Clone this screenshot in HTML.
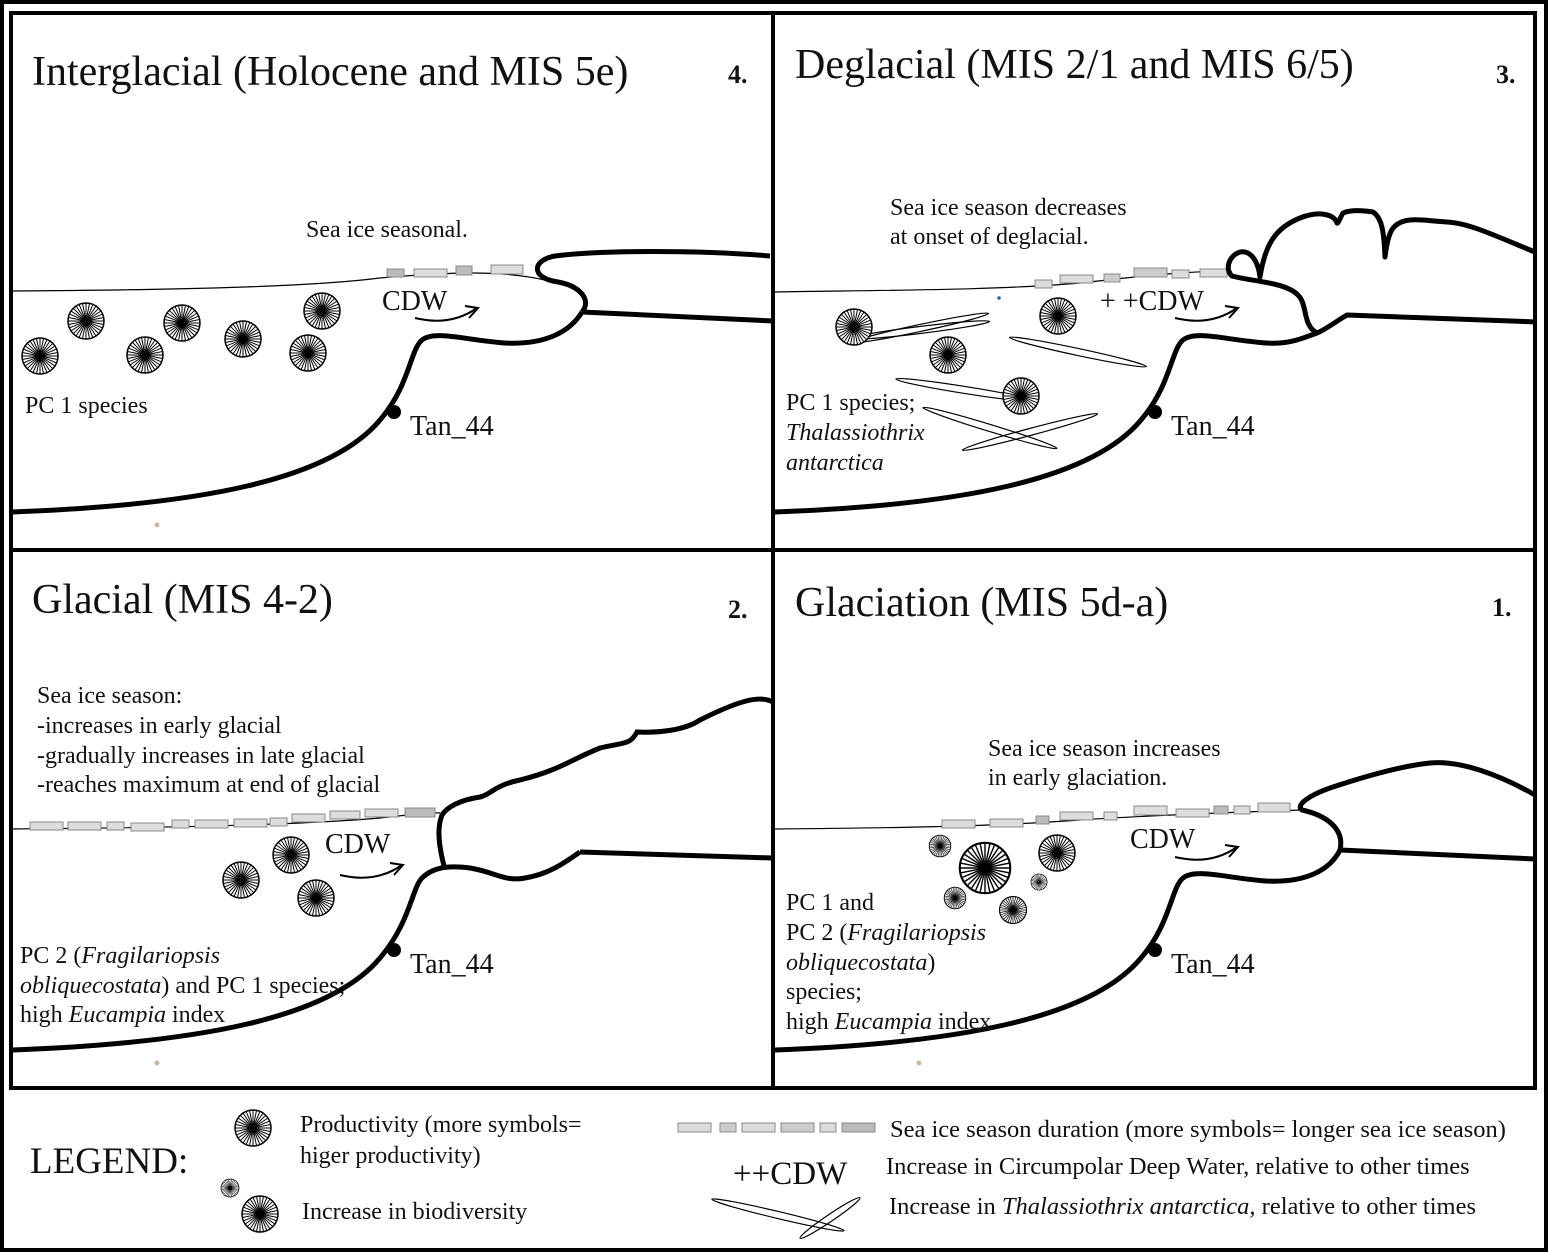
<!DOCTYPE html>
<html><head><meta charset="utf-8"><style>
html,body{margin:0;padding:0;background:#fff}
svg{display:block}
text{font-family:"Liberation Serif",serif;fill:#111}
</style></head><body>
<svg width="1548" height="1252" viewBox="0 0 1548 1252" xmlns="http://www.w3.org/2000/svg">
<defs>
<g id="d">
<circle r="18" fill="#fff" stroke="#000" stroke-width="1.5"/>
<g stroke="#000" stroke-width="1">
<line x1="-18" y1="0" x2="18" y2="0"/><line x1="-16.6" y1="-6.9" x2="16.6" y2="6.9"/>
<line x1="-12.7" y1="-12.7" x2="12.7" y2="12.7"/><line x1="-6.9" y1="-16.6" x2="6.9" y2="16.6"/>
<line x1="0" y1="-18" x2="0" y2="18"/><line x1="6.9" y1="-16.6" x2="-6.9" y2="16.6"/>
<line x1="12.7" y1="-12.7" x2="-12.7" y2="12.7"/><line x1="16.6" y1="-6.9" x2="-16.6" y2="6.9"/>
<line x1="-17.6" y1="-3.5" x2="17.6" y2="3.5"/><line x1="-15" y1="-10" x2="15" y2="10"/>
<line x1="-10" y1="-15" x2="10" y2="15"/><line x1="-3.5" y1="-17.6" x2="3.5" y2="17.6"/>
<line x1="3.5" y1="-17.6" x2="-3.5" y2="17.6"/><line x1="10" y1="-15" x2="-10" y2="15"/>
<line x1="15" y1="-10" x2="-15" y2="10"/><line x1="17.6" y1="-3.5" x2="-17.6" y2="3.5"/>
</g>
<circle r="3" fill="#000"/>
</g>
<g id="a"><path d="M0,0 C25,6 45,2 62,-10" fill="none" stroke="#000" stroke-width="2"/><path d="M50,-12 L63,-10 L54,0" fill="none" stroke="#000" stroke-width="2"/></g>
<g id="t"><ellipse rx="70" ry="3.5" fill="none" stroke="#000" stroke-width="1.2"/></g>
</defs>
<rect x="2" y="2" width="1544" height="1248" fill="none" stroke="#000" stroke-width="4"/>
<rect x="11" y="13" width="1524" height="1075" fill="none" stroke="#000" stroke-width="4"/>
<line x1="773" y1="13" x2="773" y2="1088" stroke="#000" stroke-width="4"/>
<line x1="11" y1="550" x2="1535" y2="550" stroke="#000" stroke-width="4"/>

<!-- Panel 4 -->
<text x="32" y="85" font-size="42">Interglacial (Holocene and MIS 5e)</text>
<text x="728" y="83" font-size="26" font-weight="bold">4.</text>
<text x="306" y="237" font-size="24">Sea ice seasonal.</text>
<path d="M12,291 C150,290 300,288 380,278 C450,272 500,270 545,280" fill="none" stroke="#000" stroke-width="1.2"/>
<g fill="#ccc" stroke="#888"><rect x="387" y="269" width="17" height="8" fill="#bbb"/><rect x="414" y="269" width="33" height="8" fill="#ddd"/><rect x="456" y="266" width="16" height="9" fill="#bbb"/><rect x="491" y="265" width="32" height="9" fill="#ddd"/></g>
<path d="M770,256 C700,250 600,250 555,256 C532,260 530,278 558,282 C580,286 592,300 582,312" fill="none" stroke="#000" stroke-width="5"/>
<path d="M582,312 L773,321" stroke="#000" stroke-width="5"/>
<path d="M12,512 C200,505 330,480 380,420 C410,385 410,350 422,340 C435,330 465,340 505,343 C545,345 570,332 582,312" fill="none" stroke="#000" stroke-width="5"/>
<circle cx="394" cy="412" r="7"/>
<text x="382" y="310" font-size="28">CDW</text>
<use href="#a" x="415" y="318"/>
<text x="410" y="435" font-size="28">Tan_44</text>
<text x="25" y="413" font-size="24">PC 1 species</text>
<use href="#d" x="40" y="356"/><use href="#d" x="86" y="321"/><use href="#d" x="145" y="355"/><use href="#d" x="182" y="323"/><use href="#d" x="243" y="339"/><use href="#d" x="322" y="311"/><use href="#d" x="308" y="353"/>
<circle cx="157" cy="525" r="2.5" fill="#c9b7a6"/>

<!-- Panel 3 -->
<text x="795" y="78" font-size="42">Deglacial (MIS 2/1 and MIS 6/5)</text>
<text x="1496" y="83" font-size="26" font-weight="bold">3.</text>
<text x="890" y="215" font-size="24">Sea ice season decreases</text>
<text x="890" y="244" font-size="24">at onset of deglacial.</text>
<path d="M775,292 C900,290 1000,290 1080,283 C1150,275 1200,270 1232,272" fill="none" stroke="#000" stroke-width="1.2"/>
<g stroke="#888"><rect x="1035" y="280" width="17" height="8" fill="#ddd"/><rect x="1060" y="275" width="33" height="8" fill="#ddd"/><rect x="1104" y="274" width="16" height="8" fill="#ccc"/><rect x="1134" y="268" width="33" height="9" fill="#ccc"/><rect x="1172" y="270" width="17" height="8" fill="#ddd"/><rect x="1200" y="269" width="27" height="8" fill="#ddd"/></g>
<path d="M1535,252 C1500,238 1470,223 1447,222 C1430,221 1420,219 1410,220 C1392,222 1388,232 1385,257 C1384,232 1382,218 1373,212 C1360,210 1350,210 1343,213 C1340,218 1338,224 1337,223 C1335,215 1320,210 1300,218 C1275,228 1265,245 1260,277 C1258,260 1250,250 1240,252 C1228,256 1225,270 1232,276 C1255,282 1285,282 1298,295 C1308,305 1302,325 1317,333 C1325,330 1335,322 1347,315 L1537,322" fill="none" stroke="#000" stroke-width="5" stroke-linejoin="round"/>
<path d="M775,512 C961,505 1091,480 1141,420 C1171,385 1171,350 1183,340 C1196,330 1226,340 1266,343 C1290,345 1305,337 1317,333" fill="none" stroke="#000" stroke-width="5"/>
<circle cx="1155" cy="412" r="7"/>
<text x="1100" y="310" font-size="28">+ +CDW</text>
<use href="#a" x="1175" y="318"/>
<text x="1171" y="435" font-size="28">Tan_44</text>
<text x="786" y="410" font-size="24">PC 1 species;</text>
<text x="786" y="440" font-size="24" font-style="italic">Thalassiothrix</text>
<text x="786" y="470" font-size="24" font-style="italic">antarctica</text>
<circle cx="999" cy="298" r="1.8" fill="#1a6fa8"/>
<use href="#t" transform="translate(920,328) rotate(-12)"/><use href="#t" transform="translate(920,330) rotate(-7)"/>
<use href="#t" transform="translate(1078,352) rotate(12)"/>
<use href="#t" transform="translate(965,390) rotate(9)"/>
<use href="#t" transform="translate(990,428) rotate(17)"/><use href="#t" transform="translate(1030,432) rotate(-15)"/>
<use href="#d" x="854" y="327"/><use href="#d" x="1058" y="316"/><use href="#d" x="948" y="355"/><use href="#d" x="1021" y="396"/>

<!-- Panel 2 -->
<text x="32" y="613" font-size="42">Glacial (MIS 4-2)</text>
<text x="728" y="618" font-size="26" font-weight="bold">2.</text>
<text x="37" y="703" font-size="24">Sea ice season:</text>
<text x="37" y="733" font-size="24">-increases in early glacial</text>
<text x="37" y="763" font-size="24">-gradually increases in late glacial</text>
<text x="37" y="792" font-size="24">-reaches maximum at end of glacial</text>
<path d="M12,829 C150,828 300,825 380,818 C410,815 425,812 440,813" fill="none" stroke="#000" stroke-width="1.2"/>
<g stroke="#888" fill="#ddd"><rect x="30" y="822" width="33" height="8"/><rect x="68" y="822" width="33" height="8"/><rect x="107" y="822" width="17" height="8"/><rect x="131" y="823" width="33" height="8"/><rect x="172" y="820" width="17" height="8"/><rect x="195" y="820" width="33" height="8"/><rect x="234" y="819" width="33" height="8"/><rect x="270" y="818" width="17" height="8"/><rect x="292" y="814" width="33" height="8"/><rect x="330" y="811" width="30" height="8"/><rect x="365" y="809" width="33" height="8"/><rect x="405" y="808" width="30" height="9" fill="#bbb"/></g>
<path d="M773,702 C760,695 740,700 700,720 C685,730 660,733 637,732 C630,745 625,742 600,748 C570,760 560,770 520,780 C495,785 490,795 480,797 C460,800 447,807 442,815 C436,830 440,850 444,866" fill="none" stroke="#000" stroke-width="5"/>
<path d="M580,852 L773,858" fill="none" stroke="#000" stroke-width="5"/>
<path d="M12,1050 C200,1043 330,1018 380,958 C410,923 412,888 422,878 C435,865 455,866 470,868 C495,872 505,882 525,878 C550,874 565,862 580,852" fill="none" stroke="#000" stroke-width="5"/>
<circle cx="394" cy="950" r="7"/>
<text x="325" y="853" font-size="28">CDW</text>
<use href="#a" x="340" y="875"/>
<text x="410" y="973" font-size="28">Tan_44</text>
<text x="20" y="963" font-size="24">PC 2 (<tspan font-style="italic">Fragilariopsis</tspan></text>
<text x="20" y="993" font-size="24"><tspan font-style="italic">obliquecostata</tspan>) and PC 1 species;</text>
<text x="20" y="1022" font-size="24">high <tspan font-style="italic">Eucampia</tspan> index</text>
<use href="#d" x="291" y="855"/><use href="#d" x="241" y="880"/><use href="#d" x="316" y="898"/>
<circle cx="157" cy="1063" r="2.5" fill="#c9b7a6"/>

<!-- Panel 1 -->
<text x="795" y="616" font-size="42">Glaciation (MIS 5d-a)</text>
<text x="1492" y="616" font-size="26" font-weight="bold">1.</text>
<text x="988" y="756" font-size="24">Sea ice season increases</text>
<text x="988" y="785" font-size="24">in early glaciation.</text>
<path d="M775,829 C900,828 1000,826 1080,820 C1150,815 1250,812 1300,810" fill="none" stroke="#000" stroke-width="1.2"/>
<g stroke="#888" fill="#ddd"><rect x="942" y="820" width="33" height="8"/><rect x="990" y="819" width="33" height="8"/><rect x="1036" y="816" width="13" height="8" fill="#bbb"/><rect x="1060" y="812" width="33" height="8"/><rect x="1104" y="812" width="13" height="8"/><rect x="1134" y="806" width="33" height="9"/><rect x="1176" y="809" width="33" height="8"/><rect x="1214" y="806" width="14" height="8" fill="#bbb"/><rect x="1234" y="806" width="16" height="8"/><rect x="1258" y="803" width="32" height="9"/></g>
<path d="M1535,795 C1500,775 1460,760 1430,763 C1400,766 1360,778 1330,788 C1310,795 1295,805 1302,810 C1325,815 1345,828 1340,850" fill="none" stroke="#000" stroke-width="5"/>
<path d="M1340,850 L1535,859" stroke="#000" stroke-width="5"/>
<path d="M775,1050 C961,1043 1091,1018 1141,958 C1171,923 1171,888 1183,878 C1196,868 1226,878 1266,881 C1306,883 1330,870 1340,850" fill="none" stroke="#000" stroke-width="5"/>
<circle cx="1155" cy="950" r="7"/>
<text x="1130" y="848" font-size="28">CDW</text>
<use href="#a" x="1175" y="857"/>
<text x="1171" y="973" font-size="28">Tan_44</text>
<text x="786" y="910" font-size="24">PC 1 and</text>
<text x="786" y="940" font-size="24">PC 2 (<tspan font-style="italic">Fragilariopsis</tspan></text>
<text x="786" y="970" font-size="24" font-style="italic">obliquecostata<tspan font-style="normal">)</tspan></text>
<text x="786" y="999" font-size="24">species;</text>
<text x="786" y="1029" font-size="24">high <tspan font-style="italic">Eucampia</tspan> index</text>
<use href="#d" transform="translate(940,846) scale(0.6)"/><use href="#d" transform="translate(985,868) scale(1.4)"/><use href="#d" x="1057" y="853"/><use href="#d" transform="translate(1039,882) scale(0.45)"/><use href="#d" transform="translate(955,898) scale(0.6)"/><use href="#d" transform="translate(1013,910) scale(0.75)"/>
<circle cx="919" cy="1063" r="2.5" fill="#c9b7a6"/>

<!-- Legend -->
<text x="30" y="1173" font-size="37">LEGEND:</text>
<use href="#d" x="253" y="1128"/>
<text x="300" y="1132" font-size="24">Productivity (more symbols=</text>
<text x="300" y="1163" font-size="24">higer productivity)</text>
<use href="#d" transform="translate(230,1188) scale(0.5)"/>
<use href="#d" x="260" y="1214"/>
<text x="302" y="1219" font-size="24">Increase in biodiversity</text>
<g stroke="#888" fill="#ddd"><rect x="678" y="1123" width="33" height="9"/><rect x="720" y="1123" width="16" height="9" fill="#ccc"/><rect x="742" y="1123" width="33" height="9"/><rect x="781" y="1123" width="33" height="9" fill="#ccc"/><rect x="820" y="1123" width="16" height="9"/><rect x="842" y="1123" width="33" height="9" fill="#bbb"/></g>
<text x="890" y="1137" font-size="24.5">Sea ice season duration (more symbols= longer sea ice season)</text>
<text x="733" y="1184" font-size="33">++CDW</text>
<text x="886" y="1174" font-size="24.5">Increase in Circumpolar Deep Water, relative to other times</text>
<use href="#t" transform="translate(778,1215) scale(0.97,1) rotate(13)"/>
<use href="#t" transform="translate(830,1218) rotate(-34) scale(0.52,1)"/>
<text x="889" y="1214" font-size="24.5">Increase in <tspan font-style="italic">Thalassiothrix antarctica</tspan>, relative to other times</text>
</svg>
</body></html>
